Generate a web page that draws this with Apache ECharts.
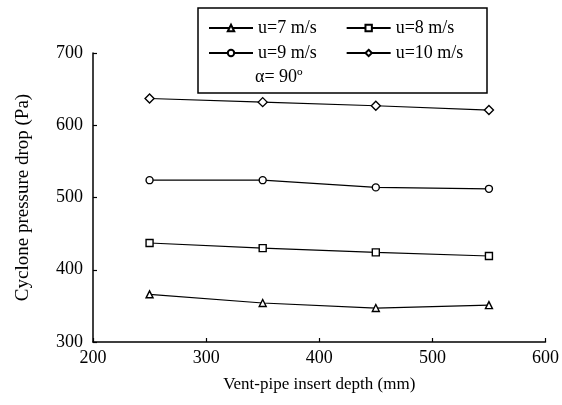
<!DOCTYPE html>
<html>
<head>
<meta charset="utf-8">
<script src="https://cdn.jsdelivr.net/npm/echarts@6/dist/echarts.min.js"></script>
<style>
  html, body { margin: 0; padding: 0; background: #fff; }
  #chart { width: 562px; height: 405px; }
</style>
</head>
<body>
<div id="chart"></div>
<script>
// insert depth (mm)
const depths = [250, 350, 450, 550]
// cyclone pressure drop (Pa) for each inlet velocity
const u7 = [366, 354, 347, 351]
const u8 = [437, 430, 424, 419]
const u9 = [524, 524, 514, 512]
const u10 = [637, 632, 627, 621]

const seriesNames = ['u=7 m/s', 'u=8 m/s', 'u=9 m/s', 'u=10 m/s']
const symbols = ['triangle', 'rect', 'circle', 'diamond']
const yTicks = [300, 400, 500, 600, 700]
const xTicks = [200, 300, 400, 500, 600]

const font = 'Liberation Serif'
const chart = echarts.init(document.getElementById('chart'))

const makeSeries = (name, values, symbol) => ({
  name: name,
  type: 'line',
  data: depths.map((d, i) => [d, values[i]]),
  symbol: symbol,
  symbolSize: symbol === 'diamond' ? 9 : 7,
  lineStyle: { color: '#000', width: 1.2 },
  itemStyle: { color: '#fff', borderColor: '#000', borderWidth: 1.4 },
  emphasis: { disabled: true }
})

const legendBase = {
  left: 203,
  itemWidth: 44,
  itemHeight: 8,
  itemGap: 29,
  textStyle: { fontFamily: font, fontSize: 18, color: '#000' }
}

const option = {
  animation: false,
  grid: { left: 93, right: 16, top: 53, bottom: 63 },
  legend: [
    Object.assign({}, legendBase, { top: 14, data: [seriesNames[0], seriesNames[1]] }),
    Object.assign({}, legendBase, { top: 39, data: [seriesNames[2], seriesNames[3]] })
  ],
  xAxis: {
    type: 'value',
    min: xTicks[0],
    max: xTicks[xTicks.length - 1],
    interval: 100,
    name: 'Vent-pipe insert depth (mm)',
    nameLocation: 'middle',
    nameGap: 34,
    nameTextStyle: { fontFamily: font, fontSize: 17, color: '#000' },
    axisLine: { lineStyle: { color: '#000', width: 1.5 } },
    axisTick: { inside: true, length: 4, lineStyle: { color: '#000', width: 1.2 } },
    axisLabel: { fontFamily: font, fontSize: 18, color: '#000', margin: 7 },
    splitLine: { show: false }
  },
  yAxis: {
    type: 'value',
    min: yTicks[0],
    max: yTicks[yTicks.length - 1],
    interval: 100,
    name: 'Cyclone pressure drop (Pa)',
    nameLocation: 'middle',
    nameGap: 60,
    nameTextStyle: { fontFamily: font, fontSize: 19, color: '#000' },
    axisLine: { show: true, lineStyle: { color: '#000', width: 1.5 } },
    axisTick: { show: true, inside: true, length: 4, lineStyle: { color: '#000', width: 1.2 } },
    axisLabel: { fontFamily: font, fontSize: 18, color: '#000', margin: 10 },
    splitLine: { show: false }
  },
  graphic: [
    {
      type: 'rect',
      shape: { x: 198, y: 8, width: 289, height: 85 },
      style: { fill: 'none', stroke: '#000', lineWidth: 1.5 },
      z: 100
    },
    {
      type: 'text',
      x: 255,
      y: 77,
      style: {
        text: 'α= 90º',
        font: '18px "Liberation Serif"',
        fill: '#000',
        verticalAlign: 'middle'
      },
      z: 100
    }
  ],
  series: [
    makeSeries(seriesNames[0], u7, symbols[0]),
    makeSeries(seriesNames[1], u8, symbols[1]),
    makeSeries(seriesNames[2], u9, symbols[2]),
    makeSeries(seriesNames[3], u10, symbols[3])
  ]
}

chart.setOption(option)
</script>
</body>
</html>
